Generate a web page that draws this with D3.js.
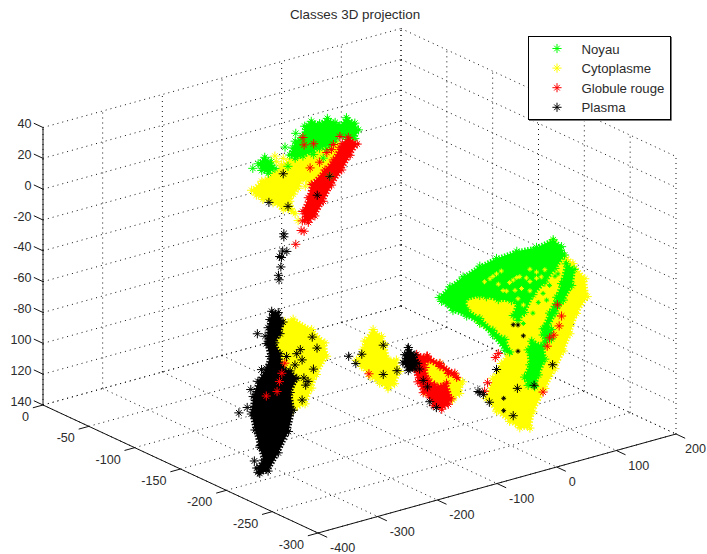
<!DOCTYPE html>
<html>
<head>
<meta charset="utf-8">
<title>Classes 3D projection</title>
<script src="https://cdn.jsdelivr.net/npm/d3@7"></script>
<style>
  html, body { margin: 0; padding: 0; background: #fff; }
  svg { display: block; }
  text { font-family: "Liberation Sans", Arial, sans-serif; fill: #2b2b2b; }
</style>
</head>
<body>
<svg id="chart" width="707" height="554"></svg>
<script>
// Axis values and labels
const xTicks = [-400, -300, -200, -100, 0, 100, 200];
const yTicks = [0, -50, -100, -150, -200, -250, -300];
const zTicks = [40, 20, 0, -20, -40, -60, -80, -100, -120, -140];
const zTickLabels = ['40', '20', '0', '-20', '-40', '-60', '-80', '100', '120', '140'];
const classNames = ['Noyau', 'Cytoplasme', 'Globule rouge', 'Plasma'];
const classColors = ['#00ff00', '#ffff00', '#ff0000', '#000000'];

const yHaut = -100;
const yBas = -200;
const yMilieu = -200;
const yDroite = -250;

// Dense parts of the clouds, outlines as [x, z]
const noyauHautA = [[-193,22],[-182,25],[-171,21],[-165,16],[-176,14],[-187,17]];
const noyauHautB = [[-140,22],[-135,26],[-131,30],[-118,32],[-115,38],[-104,40],[-90,37],[-77,39],[-64,35],[-56,32],[-45,36],[-31,31],[-25,26],[-31,21],[-45,22],[-56,26],[-64,23],[-73,21],[-90,21],[-104,20],[-118,19],[-131,19]];
const noyauDroiteA = [[-120,-31],[-102,-26],[-80,-22],[-52,-18],[-24,-16],[10,-15],[43,-16],[71,-14],[85,-20],[90,-26],[74,-33],[57,-40],[37,-46],[23,-56],[12,-60],[4,-56],[11,-49],[1,-46],[-21,-43],[-41,-39],[-52,-37],[-77,-37],[-74,-44],[-52,-52],[-30,-62],[-10,-70],[-2,-79],[-10,-77],[-30,-65],[-52,-55],[-74,-48],[-97,-42],[-116,-34]];
const noyauDroiteB = [[93,-32],[106,-37],[102,-47],[88,-55],[74,-62],[62,-70],[57,-73],[54,-70],[65,-61],[77,-52],[85,-44]];
const noyauDroiteC = [[35,-76],[54,-81],[57,-90],[46,-99],[40,-106],[29,-104],[23,-98],[32,-91],[29,-81]];
const noyauDroiteD = [[57,-70],[68,-72],[68,-78],[57,-79],[54,-74]];

const cytoHaut = [[-204,6],[-187,10],[-168,13],[-154,17],[-140,19],[-112,19],[-90,20],[-62,22],[-48,16],[-56,11],[-73,7],[-90,3],[-106,0],[-118,4],[-126,-1],[-134,-4],[-140,-8],[-131,-17],[-151,-12],[-168,-6],[-185,-2],[-196,2]];
const cytoBas = [[-302,-41],[-288,-41],[-257,-51],[-235,-62],[-232,-71],[-249,-81],[-257,-89],[-268,-98],[-288,-100],[-296,-97],[-307,-80],[-319,-64],[-319,-53],[-310,-46]];
const cytoMilieuA = [[-168,-68],[-154,-62],[-140,-68],[-134,-74],[-129,-84],[-115,-86],[-110,-94],[-118,-101],[-129,-103],[-143,-98],[-159,-92],[-173,-84],[-182,-79],[-171,-73]];
const cytoMilieuB = [[-64,-90],[-42,-96],[-17,-106],[-4,-112],[-9,-119],[-21,-122],[-42,-123],[-67,-112],[-76,-98]];
const cytoDroite = [[-80,-37],[71,-15],[104,-33],[124,-45],[128,-57],[110,-66],[99,-78],[88,-88],[74,-98],[57,-109],[37,-122],[32,-132],[15,-130],[-2,-124],[-24,-115],[-41,-105],[-30,-93],[-16,-85],[-5,-80],[-5,-74],[-24,-66],[-52,-55],[-74,-45]];

const rougeHaut = [[-115,-23],[-118,-17],[-109,-9],[-104,-1],[-81,6],[-67,11],[-56,18],[-42,23],[-27,17],[-39,11],[-53,3],[-70,-5],[-84,-14],[-98,-22],[-109,-25]];
const rougeMilieuA = [[-81,-86],[-64,-89],[-67,-96],[-62,-104],[-51,-109],[-51,-113],[-59,-115],[-70,-112],[-79,-104],[-86,-93]];
const rougeMilieuB = [[-63,-89],[-42,-96],[-17,-105],[-14,-108],[-28,-104],[-42,-98],[-62,-92]];
const rougeMilieuC = [[-51,-110],[-31,-110],[-23,-121],[-28,-124],[-39,-126],[-53,-122],[-59,-116]];

const plasmaBas = [[-324,-32],[-313,-34],[-305,-41],[-310,-48],[-319,-53],[-310,-61],[-307,-70],[-293,-74],[-282,-80],[-293,-88],[-288,-100],[-296,-113],[-313,-125],[-330,-135],[-344,-135],[-349,-131],[-338,-127],[-344,-118],[-352,-106],[-358,-95],[-355,-84],[-347,-75],[-333,-68],[-327,-61],[-333,-52],[-330,-42],[-327,-37]];
const plasmaMilieu = [[-95,-80],[-84,-86],[-79,-92],[-84,-95],[-95,-95],[-104,-89],[-101,-84]];

// Single points that stand out of the clouds, [x, z]
const noyauPointsHaut = [[-202,20],[-130,35],[-148,28],[-143,15],[-100,18],[-78,19],[-84,14]];
const cytoPointsHaut = [[-165,24],[-151,21],[-114,-1],[-126,-22],[-73,1],[-162,20]];
const rougePointsHaut = [[-119,-23],[-121,-29],[-116,-30],[-130,-37],[-118,31],[-116,26],[-100,25],[-106,10],[-78,17],[-56,25],[-67,21],[-90,12],[-34,18],[-70,18],[-52,20]];
const rougePointsBas = [[-302,-68],[-307,-74],[-311,-79],[-315,-85],[-333,-86]];
const rougePointsMilieu = [[-161,-90]];
const rougePointsDroite = [[85,-65],[81,-71],[72,-76],[65,-77],[61,-82],[78,-57],[-26,-80],[-39,-95],[-44,-100],[-21,-78],[54,-111]];
const plasmaPointsHaut = [[-151,11],[-175,-5],[-94,-9],[-73,1],[-143,-11],[-150,-28],[-150,-30],[-152,-39],[-157,-42],[-154,-43],[-145,-40],[-155,-49],[-159,-54],[-158,-57]];
const plasmaPointsBas = [[-379,-92],[-365,-90],[-348,-44],[-335,-47],[-341,-68],[-359,-79],[-343,-117],[-353,-126],[-347,-134],[-256,-56],[-248,-64],[-276,-62],[-299,-64],[-273,-69],[-282,-64],[-270,-81],[-263,-84],[-267,-86],[-273,-95],[-254,-77],[-285,-71]];
const plasmaPointsMilieu = [[-195,-75],[-173,-76],[-137,-74],[-137,-93],[-114,-93],[-183,-81],[-76,-96],[-70,-104],[-63,-109],[-59,-119],[-48,-124],[-90,-93]];
const plasmaPointsDroite = [[70,-95],[39,-105],[4,-121],[11,-104],[-24,-88],[-52,-100],[-55,-99],[-46,-102],[-36,-108]];

// Points mostly covered by the neighbouring class, only a fragment shows
const noyauCaches = [[54,-47],[65,-43],[74,-38],[46,-52],[37,-58],[79,-37],[60,-52],[21,-63]];
const cytoCaches = [[-30,-27],[-16,-25],[-44,-29],[10,-32],[-2,-34],[32,-29],[-21,-33],[26,-34],[-7,-39],[18,-40],[57,-32],[43,-36],[-35,-28],[-24,-26],[4,-33],[15,-32],[-13,-38],[7,-40],[32,-37],[43,-32],[32,-43],[51,-36],[12,-46],[21,-51]];
const plasmaCaches = [[-12,-108],[12,-80],[4,-62],[12,-63],[21,-71],[-12,-116]];

// Which class each array belongs to (0 Noyau, 1 Cytoplasme, 2 Globule rouge, 3 Plasma)
const regions = [
  { cls: 1, y: yHaut, pts: cytoHaut },
  { cls: 1, y: yBas, pts: cytoBas },
  { cls: 1, y: yMilieu, pts: cytoMilieuA },
  { cls: 1, y: yMilieu, pts: cytoMilieuB },
  { cls: 1, y: yDroite, pts: cytoDroite },
  { cls: 0, y: yHaut, pts: noyauHautA },
  { cls: 0, y: yHaut, pts: noyauHautB },
  { cls: 0, y: yDroite, pts: noyauDroiteA },
  { cls: 0, y: yDroite, pts: noyauDroiteB },
  { cls: 0, y: yDroite, pts: noyauDroiteC },
  { cls: 0, y: yDroite, pts: noyauDroiteD },
  { cls: 2, y: yHaut, pts: rougeHaut },
  { cls: 2, y: yMilieu, pts: rougeMilieuA },
  { cls: 2, y: yMilieu, pts: rougeMilieuB },
  { cls: 2, y: yMilieu, pts: rougeMilieuC },
  { cls: 3, y: yBas, pts: plasmaBas },
  { cls: 3, y: yMilieu, pts: plasmaMilieu }
];
const pointGroups = [
  { cls: 0, y: yHaut, pts: noyauPointsHaut },
  { cls: 1, y: yHaut, pts: cytoPointsHaut },
  { cls: 2, y: yHaut, pts: rougePointsHaut },
  { cls: 2, y: yBas, pts: rougePointsBas },
  { cls: 2, y: yMilieu, pts: rougePointsMilieu },
  { cls: 2, y: yDroite, pts: rougePointsDroite },
  { cls: 3, y: yHaut, pts: plasmaPointsHaut },
  { cls: 3, y: yBas, pts: plasmaPointsBas },
  { cls: 3, y: yMilieu, pts: plasmaPointsMilieu },
  { cls: 3, y: yDroite, pts: plasmaPointsDroite }
];

// 3D projection: each data axis contributes a screen offset through its own scales
const xToPx = d3.scaleLinear().domain([-400, 200]).range([0, 358]);
const xToPy = d3.scaleLinear().domain([-400, 200]).range([0, -99]);
const yToPx = d3.scaleLinear().domain([0, -300]).range([0, 275]);
const yToPy = d3.scaleLinear().domain([0, -300]).range([0, 128]);
const zToPy = d3.scaleLinear().domain([-140, 40]).range([405, 127.5]);
const originX = 43;

function project(x, y, z) {
  return [originX + xToPx(x) + yToPx(y), zToPy(z) + xToPy(x) + yToPy(y)];
}

const svg = d3.select('#chart');

function drawLine3d(group, a, b) {
  const p = project(a[0], a[1], a[2]);
  const q = project(b[0], b[1], b[2]);
  return group.append('line')
    .attr('x1', p[0]).attr('y1', p[1])
    .attr('x2', q[0]).attr('y2', q[1]);
}

// Dotted grid on the two walls and the floor
const grid = svg.append('g')
  .attr('stroke', '#111')
  .attr('stroke-width', 1)
  .attr('stroke-dasharray', '1 4');

zTicks.forEach(z => {
  drawLine3d(grid, [-400, 0, z], [200, 0, z]);
  drawLine3d(grid, [200, 0, z], [200, -300, z]);
});
xTicks.forEach(x => {
  drawLine3d(grid, [x, 0, -140], [x, 0, 40]);
  drawLine3d(grid, [x, 0, -140], [x, -300, -140]);
});
yTicks.forEach(y => {
  drawLine3d(grid, [200, y, -140], [200, y, 40]);
  drawLine3d(grid, [-400, y, -140], [200, y, -140]);
});

// Solid axes and tick marks
const axes = svg.append('g').attr('stroke', '#111').attr('stroke-width', 1);
drawLine3d(axes, [-400, 0, -140], [-400, 0, 40]);
drawLine3d(axes, [-400, 0, -140], [-400, -300, -140]);
drawLine3d(axes, [-400, -300, -140], [200, -300, -140]);

zTicks.forEach(z => drawLine3d(axes, [-400, 0, z], [-400, 10, z]));
yTicks.forEach(y => drawLine3d(axes, [-400, y, -140], [-417, y, -140]));
xTicks.forEach(x => drawLine3d(axes, [x, -300, -140], [x, -310, -140]));

// Tick labels
const labels = svg.append('g').attr('font-size', 12.6);
zTicks.forEach((z, i) => {
  const p = project(-400, 0, z);
  labels.append('text')
    .attr('x', 31.5).attr('y', p[1] + 0.5)
    .attr('text-anchor', 'end')
    .text(zTickLabels[i]);
});
yTicks.forEach(y => {
  const p = project(-400, y, -140);
  labels.append('text')
    .attr('x', p[0] - 14).attr('y', p[1] + 16)
    .attr('text-anchor', 'end')
    .text(y);
});
xTicks.forEach(x => {
  const p = project(x, -300, -140);
  const label = labels.append('text')
    .attr('y', p[1] + 19)
    .text(x);
  // keep the last label inside the window
  const width = label.node().getComputedTextLength();
  label.attr('x', Math.min(p[0] + 12, 706 - width));
});

// Star marker used by every class: upright cross plus a shorter diagonal cross
const starType = {
  draw(context, size) {
    const r = Math.sqrt(size);
    const d = r * 0.62;
    context.moveTo(-r, 0); context.lineTo(r, 0);
    context.moveTo(0, -r); context.lineTo(0, r);
    context.moveTo(-d, -d); context.lineTo(d, d);
    context.moveTo(-d, d); context.lineTo(d, -d);
  }
};
const starPath = d3.symbol().type(starType).size(21)();
const smallStarPath = d3.symbol().type(starType).size(6)();

function drawStars(group, pts, y, color, path) {
  group.selectAll(null)
    .data(pts)
    .join('path')
    .attr('d', path)
    .attr('transform', d => {
      const p = project(d[0], y, d[1]);
      return `translate(${p[0]},${p[1]})`;
    })
    .attr('fill', 'none')
    .attr('stroke', color)
    .attr('stroke-width', 1);
}

// Clouds: the outline is filled, its rough edge stands for the scattered stars
const cloudLine = d3.line().curve(d3.curveLinearClosed);
const clouds = svg.append('g');
regions.forEach(r => {
  const color = classColors[r.cls];
  clouds.append('path')
    .attr('d', cloudLine(r.pts.map(d => project(d[0], r.y, d[1]))))
    .attr('fill', color)
    .attr('stroke', color)
    .attr('stroke-width', 4)
    .attr('stroke-dasharray', '1.5 1.5');
  drawStars(clouds.append('g'), r.pts, r.y, color, starPath);
});

const marks = svg.append('g');
drawStars(marks.append('g'), noyauCaches, yDroite, classColors[0], smallStarPath);
drawStars(marks.append('g'), cytoCaches, yDroite, classColors[1], smallStarPath);
pointGroups.forEach(g => {
  drawStars(marks.append('g'), g.pts, g.y, classColors[g.cls], starPath);
});
drawStars(marks.append('g'), plasmaCaches, yDroite, classColors[3], smallStarPath);

// Title
svg.append('text')
  .attr('x', 355).attr('y', 19)
  .attr('text-anchor', 'middle')
  .attr('font-size', 13.4)
  .text('Classes 3D projection');

// Legend
const legend = svg.append('g');
legend.append('rect')
  .attr('x', 528.5).attr('y', 36.5)
  .attr('width', 142).attr('height', 83)
  .attr('fill', '#fff')
  .attr('stroke', '#000');
legend.append('path')
  .attr('d', 'M671.5,37V120.5H529')
  .attr('fill', 'none')
  .attr('stroke', '#777');
classNames.forEach((name, i) => {
  const rowY = 48.5 + i * 19.6;
  legend.append('path')
    .attr('d', starPath)
    .attr('transform', `translate(557,${rowY})`)
    .attr('fill', 'none')
    .attr('stroke', classColors[i]);
  legend.append('text')
    .attr('x', 581.5).attr('y', rowY + 5)
    .attr('font-size', 13.2)
    .text(name);
});
</script>
</body>
</html>
